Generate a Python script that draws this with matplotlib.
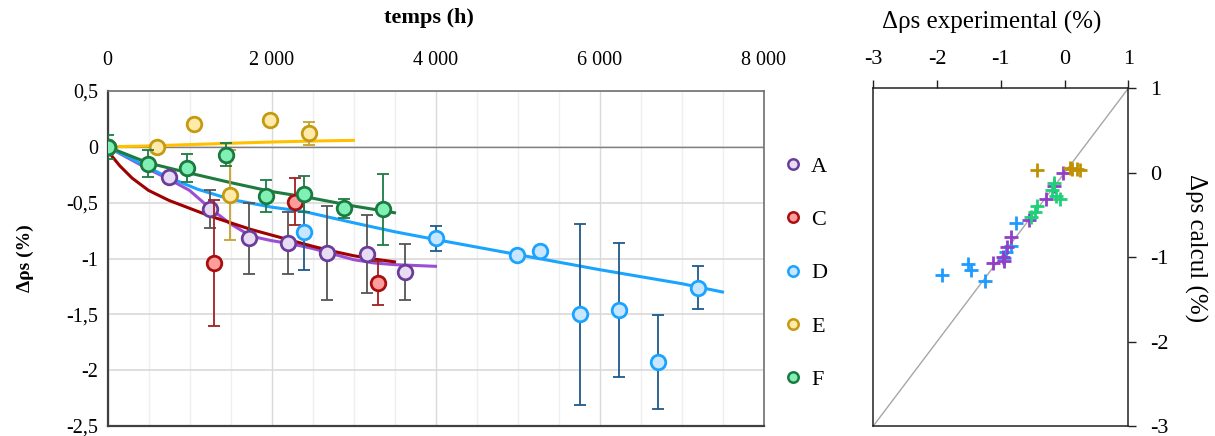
import matplotlib
matplotlib.use('Agg')
import matplotlib.pyplot as plt
from matplotlib.ticker import FuncFormatter, MultipleLocator
from matplotlib.lines import Line2D

plt.rcParams['font.family'] = ['Liberation Serif', 'DejaVu Serif']
plt.rcParams['axes.unicode_minus'] = False

# ---------------- mesures (temps en h, delta rho_s en %, barre d'erreur) ----------------
a_t = [0, 756, 1244, 1720, 2199, 2679, 3167, 3634]
a_y = [0, -0.27, -0.56, -0.82, -0.86, -0.95, -0.96, -1.12]
a_err = [0, 0, 0.17, 0.32, 0.28, 0.42, 0.35, 0.25]

c_t = [0, 1293, 2289, 3293]
c_y = [0, -1.04, -0.49, -1.22]
c_err = [0, 0.56, 0.21, 0.20]

d_t = [0, 2402, 4000, 4996, 5277, 5760, 6236, 6715, 7199]
d_y = [0, -0.76, -0.82, -0.97, -0.93, -1.50, -1.46, -1.93, -1.26]
d_err = [0, 0.34, 0.11, 0.03, 0.03, 0.81, 0.60, 0.42, 0.19]

e_t = [0, 606, 1053, 1492, 1976, 2463]
e_y = [0, 0.0, 0.20, -0.43, 0.24, 0.12]
e_err = [0, 0, 0, 0.40, 0, 0.10]

f_t = [0, 490, 973, 1447, 1931, 2402, 2882, 3358]
f_y = [0, -0.15, -0.19, -0.07, -0.44, -0.42, -0.55, -0.56]
f_err = [0.11, 0.12, 0.125, 0.10, 0.145, 0.16, 0.085, 0.32]

# ---------------- courbes calculees ----------------
a_mt = [0, 250, 500, 750, 1000, 1250, 1500, 1750, 2000, 2250, 2500, 2750, 3000, 3250, 3500, 4000]
a_my = [0, -0.10, -0.20, -0.29, -0.39, -0.55, -0.69, -0.80, -0.84, -0.87, -0.91, -0.96, -1.01, -1.04, -1.055, -1.07]

c_mt = [0, 50, 150, 300, 500, 750, 1000, 1250, 1500, 1750, 2000, 2250, 2500, 2750, 3000, 3250, 3500]
c_my = [0, -0.08, -0.17, -0.28, -0.39, -0.48, -0.55, -0.62, -0.68, -0.74, -0.79, -0.84, -0.89, -0.935, -0.975, -1.005, -1.03]

d_mt = [0, 300, 700, 1100, 1500, 2000, 2400, 3000, 3500, 4000, 5000, 6000, 7000, 7500]
d_my = [0, -0.11, -0.26, -0.38, -0.47, -0.54, -0.58, -0.68, -0.76, -0.83, -0.965, -1.10, -1.225, -1.30]

e_mt = [0, 500, 1000, 1500, 2000, 2500, 3000]
e_my = [0, 0.008, 0.02, 0.032, 0.043, 0.052, 0.058]

f_mt = [0, 500, 1000, 1500, 2000, 2500, 3000, 3500]
f_my = [0, -0.145, -0.235, -0.32, -0.40, -0.46, -0.53, -0.59]

# ---------------- comparaison experimental / calcul ----------------
d_exp = [-1.93, -1.51, -1.47, -1.25, -0.76, -0.84, -0.92, -0.95]
d_calc = [-1.21, -1.08, -1.15, -1.28, -0.60, -0.87, -0.94, -1.01]
a_exp = [-0.02, -0.165, -0.29, -0.55, -0.845, -0.90, -0.96, -1.12, -0.95]
a_calc = [0.0, -0.16, -0.315, -0.56, -0.76, -0.88, -1.0, -1.07, -1.04]
f_exp = [-0.16, -0.20, -0.13, -0.07, -0.44, -0.47, -0.52]
f_calc = [-0.125, -0.20, -0.28, -0.315, -0.40, -0.46, -0.52]
e_exp = [-0.44, 0.09, 0.20, 0.24, 0.12]
e_calc = [0.03, 0.06, 0.05, 0.03, 0.05]

labels = ['A', 'C', 'D', 'E', 'F']
fills = ['#e8dcf4', '#ff9c9c', '#c8e6ff', '#ffeaaa', '#80f0b4']
edges = ['#6a3d9a', '#a80f0f', '#1aa3ff', '#c49a10', '#1a7a40']
lines = ['#9b4fd4', '#a00000', '#1aa3ff', '#ffc000', '#1e7b40']
errcols = ['#555555', '#a02020', '#1f5a8a', '#c8a030', '#1e7b45']

W, H = 1215, 436
fig = plt.figure(figsize=(W / 100, H / 100), dpi=100)

# ================= graphe de gauche =================
ax = fig.add_axes([107.5 / W, 10 / H, 656 / W, 335 / H])
ax.set_xlim(0, 8000)
ax.set_ylim(-2.5, 0.5)
ax.xaxis.set_major_locator(MultipleLocator(2000))
ax.xaxis.set_minor_locator(MultipleLocator(500))
ax.yaxis.set_major_locator(MultipleLocator(0.5))
ax.xaxis.tick_top()
ax.xaxis.set_label_position('top')
ax.xaxis.set_major_formatter(FuncFormatter(lambda v, p: '{:,.0f}'.format(v).replace(',', ' ')))
ax.yaxis.set_major_formatter(FuncFormatter(lambda v, p: ('%g' % v).replace('.', ',')))
ax.tick_params(axis='both', which='both', length=0, labelsize=14.5)
ax.tick_params(axis='x', pad=15)
ax.tick_params(axis='y', pad=7)
ax.grid(True, which='minor', axis='x', color='#efefef', lw=1)
ax.grid(True, which='major', axis='x', color='#d9d9d9', lw=1)
ax.grid(True, which='major', axis='y', color='#d9d9d9', lw=1.2)
ax.set_axisbelow(True)
ax.axhline(0, color='#808080', lw=1, zorder=1)
for s in ['left', 'bottom']:
    ax.spines[s].set_color('#404040')
    ax.spines[s].set_linewidth(1.6)
for s in ['top', 'right']:
    ax.spines[s].set_color('#707070')
    ax.spines[s].set_linewidth(1.2)

models = [(a_mt, a_my), (c_mt, c_my), (d_mt, d_my), (e_mt, e_my), (f_mt, f_my)]
for i, (mt, my) in enumerate(models):
    ax.plot(mt, my, color=lines[i], lw=2.2, zorder=2)

series = [(a_t, a_y, a_err), (c_t, c_y, c_err), (d_t, d_y, d_err), (e_t, e_y, e_err), (f_t, f_y, f_err)]
for i, (t, y, err) in enumerate(series):
    ax.errorbar(t, y, yerr=err, fmt='none', ecolor=errcols[i], elinewidth=1.3,
                capsize=4.5, capthick=1.3, zorder=3 + i)
    ax.plot(t, y, 'o', ms=10.5, mfc=fills[i], mec=edges[i], mew=2, zorder=3.5 + i)

ax.set_xlabel('temps (h)', fontsize=16, fontweight='bold')
ax.set_ylabel('Δρs (%)', fontsize=14, fontweight='bold')
for lab in [ax.xaxis.label, ax.yaxis.label]:
    lab.set_rotation_mode('default')
    lab.set_va('center')
    lab.set_ha('center')
ax.xaxis.set_label_coords(0.49, 1.218)
ax.yaxis.set_label_coords(-0.126, 0.5)

handles = [Line2D([], [], ls='none', marker='o', ms=7.5, mfc=fills[i], mec=edges[i], mew=1.8)
           for i in range(len(labels))]
fig.legend(handles, labels, loc='center left', bbox_to_anchor=(762 / W, 1 - 273 / H),
           frameon=False, fontsize=16, handlelength=1.0, handletextpad=0.3, labelspacing=1.47)

# ================= graphe de droite =================
ax2 = fig.add_axes([873.3 / W, 10 / H, 255 / W, 337.7 / H])
lims = [-3, 1]
ax2.set_xlim(lims)
ax2.set_ylim(lims)
ax2.xaxis.tick_top()
ax2.yaxis.tick_right()
ax2.set_xticks([-3, -2, -1, 0, 1])
ax2.set_yticks([-3, -2, -1, 0, 1])
ax2.tick_params(axis='both', direction='out', length=6, width=1, labelsize=16, color='#222222')
ax2.tick_params(axis='x', pad=8)
ax2.tick_params(axis='y', pad=10)
for s in ax2.spines.values():
    s.set_color('#222222')
    s.set_linewidth(1.1)
ax2.plot(lims, lims, color='#a6a6a6', lw=1, zorder=1)

cross = [(d_exp, d_calc, '#1e9bff'), (a_exp, a_calc, '#9040c8'),
         (f_exp, f_calc, '#20d078'), (e_exp, e_calc, '#c09000')]
for ex, ca, col in cross:
    ax2.plot(ex, ca, '+', ms=10, mew=2, color=col, zorder=3)

ax2.set_xlabel('Δρs experimental (%)', fontsize=18)
ax2.set_ylabel('Δρs calcul (%)', fontsize=18, rotation=270)
ax2.xaxis.set_label_position('top')
ax2.yaxis.set_label_position('right')
for lab in [ax2.xaxis.label, ax2.yaxis.label]:
    lab.set_rotation_mode('default')
    lab.set_va('center')
    lab.set_ha('center')
ax2.xaxis.set_label_coords(0.465, 1.196)
ax2.yaxis.set_label_coords(1.262, 0.527)

fig.savefig('out.png', dpi=100)
